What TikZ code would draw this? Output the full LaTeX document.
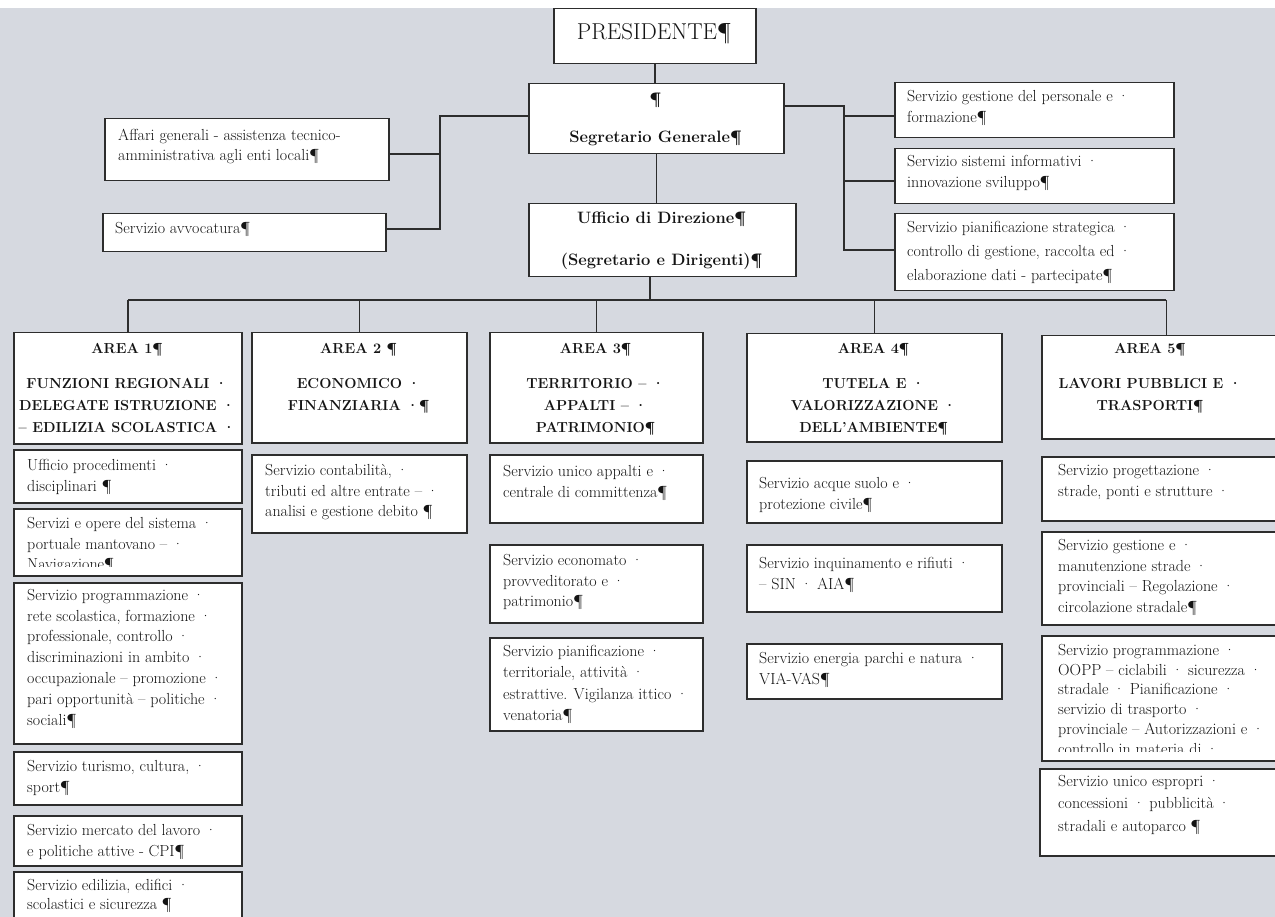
\documentclass[tikz,border=0pt]{standalone}
\definecolor{bg}{RGB}{214,217,224}
\definecolor{linec}{RGB}{45,45,45}
\definecolor{txtc}{RGB}{20,20,20}
\newcommand\mkbx[5]{\node[bx, minimum width={#4-#2}, minimum height={#5-#3}] (#1) at (#2,#3) {};}
\begin{document}
\begin{tikzpicture}[x=1pt,y=-1pt,
 bx/.style={draw=linec, line width=1.5pt, fill=white, inner sep=0pt, anchor=north west},
 tx/.style={inner sep=0pt, anchor=north west, align=left, text=txtc, font=\fontsize{16}{20.8}\selectfont},
 hd/.style={inner sep=0pt, anchor=north, align=center, text=txtc, font=\bfseries\fontsize{14.5}{22}\selectfont},
 ln/.style={draw=linec, line width=1.5pt}]
\useasboundingbox (0,0) rectangle (1275,917);
\clip (0,0) rectangle (1275,917);
\fill[bg] (0,8) rectangle (1275,917);

% top
\mkbx{pres}{553}{8}{755}{63}
\node[text=txtc, font=\fontsize{23}{26}\selectfont, inner sep=0pt] (prest) at (654,34) {PRESIDENTE¶};
\mkbx{segr}{528}{83}{783}{153}
\node[hd, font=\bfseries\fontsize{16.5}{38}\selectfont] (segrt) at (655.5,93) {¶\\Segretario Generale¶};
\mkbx{uff}{528}{203}{795}{276}
\node[hd, font=\bfseries\fontsize{16.5}{42}\selectfont] (ufft) at (661.5,212) {Ufficio di Direzione¶\\(Segretario e Dirigenti)¶};

% left
\mkbx{aff}{104}{118}{388}{180}
\node[tx, font=\fontsize{16}{20}\selectfont] (afft) at (118,129) {Affari generali - assistenza tecnico-\\amministrativa agli enti locali¶};
\mkbx{avv}{102}{213}{385}{251}
\node[tx] (avvt) at (115,222) {Servizio avvocatura¶};

% right
\mkbx{r1}{894}{82}{1173}{137}
\node[tx] (r1t) at (907,90) {Servizio gestione del personale e ·\\formazione¶};
\mkbx{r2}{894}{148}{1173}{203}
\node[tx] (r2t) at (907,155) {Servizio sistemi informativi ·\\innovazione sviluppo¶};
\mkbx{r3}{894}{213}{1173}{290}
\node[tx, font=\fontsize{16}{24}\selectfont] (r3t) at (907,221) {Servizio pianificazione strategica ·\\controllo di gestione, raccolta ed ·\\elaborazione dati - partecipate¶};

% areas
\mkbx{a1}{13}{332}{241}{443}
\node[hd] (a1t) at (127,343) {AREA 1¶\\[13pt]FUNZIONI REGIONALI ·\\DELEGATE ISTRUZIONE ·\\– EDILIZIA SCOLASTICA ·};
\mkbx{a2}{251}{332}{466}{442}
\node[hd] (a2t) at (358.5,343) {AREA 2 ¶\\[13pt]ECONOMICO ·\\FINANZIARIA ·¶};
\mkbx{a3}{489}{332}{702}{442}
\node[hd] (a3t) at (595.5,343) {AREA 3¶\\[13pt]TERRITORIO – ·\\APPALTI – ·\\PATRIMONIO¶};
\mkbx{a4}{746}{333}{1001}{441}
\node[hd] (a4t) at (873.5,343) {AREA 4¶\\[13pt]TUTELA E ·\\VALORIZZAZIONE ·\\DELL’AMBIENTE¶};
\mkbx{a5}{1041}{335}{1290}{438}
\node[hd] (a5t) at (1150,343) {AREA 5¶\\[13pt]LAVORI PUBBLICI E ·\\TRASPORTI¶};

% area 1 services
\mkbx{a1s1}{13}{449}{241}{502}
\node[tx] (a1s1t) at (27,459) {Ufficio procedimenti ·\\disciplinari ¶};
\mkbx{a1s2}{13}{508}{241}{575}
\begin{scope}
\clip (a1s2.north west) rectangle ([yshift=10pt]a1s2.south east);
\node[tx] (a1s2t) at (27,517) {Servizi e opere del sistema ·\\portuale mantovano – ·\\Navigazione¶};
\end{scope}
\mkbx{a1s3}{13}{582}{241}{743}
\node[tx] (a1s3t) at (27,589) {Servizio programmazione ·\\rete scolastica, formazione ·\\professionale, controllo ·\\discriminazioni in ambito ·\\occupazionale – promozione ·\\pari opportunità – politiche ·\\sociali¶};
\mkbx{a1s4}{13}{751}{241}{804}
\node[tx] (a1s4t) at (27,760) {Servizio turismo, cultura, ·\\sport¶};
\mkbx{a1s5}{13}{815}{241}{865}
\node[tx] (a1s5t) at (27,824) {Servizio mercato del lavoro ·\\e politiche attive - CPI¶};
\mkbx{a1s6}{13}{871}{241}{940}
\node[tx, font=\fontsize{16}{19.5}\selectfont] (a1s6t) at (27,879) {Servizio edilizia, edifici ·\\scolastici e sicurezza ¶};

% area 2 services
\mkbx{a2s1}{251}{454}{466}{532}
\node[tx] (a2s1t) at (265,464) {Servizio contabilità, ·\\tributi ed altre entrate – ·\\analisi e gestione debito ¶};

% area 3 services
\mkbx{a3s1}{489}{454}{702}{522}
\node[tx] (a3s1t) at (503,465) {Servizio unico appalti e ·\\centrale di committenza¶};
\mkbx{a3s2}{489}{544}{702}{622}
\node[tx] (a3s2t) at (503,554) {Servizio economato ·\\provveditorato e ·\\patrimonio¶};
\mkbx{a3s3}{489}{637}{702}{730}
\node[tx, font=\fontsize{16}{21.5}\selectfont] (a3s3t) at (503,645) {Servizio pianificazione ·\\territoriale, attività ·\\estrattive. Vigilanza ittico ·\\venatoria¶};

% area 4 services
\mkbx{a4s1}{746}{460}{1001}{522}
\node[tx] (a4s1t) at (759,477) {Servizio acque suolo e ·\\protezione civile¶};
\mkbx{a4s2}{746}{544}{1001}{611}
\node[tx] (a4s2t) at (759,557) {Servizio inquinamento e rifiuti ·\\– SIN · AIA¶};
\mkbx{a4s3}{746}{643}{1001}{698}
\node[tx] (a4s3t) at (759,652) {Servizio energia parchi e natura ·\\VIA-VAS¶};

% area 5 services
\mkbx{a5s1}{1041}{456}{1290}{520}
\node[tx] (a5s1t) at (1058,464) {Servizio progettazione ·\\strade, ponti e strutture ·};
\mkbx{a5s2}{1041}{531}{1290}{624}
\node[tx] (a5s2t) at (1058,539) {Servizio gestione e ·\\manutenzione strade ·\\provinciali – Regolazione ·\\circolazione stradale¶};
\mkbx{a5s3}{1041}{635}{1290}{760}
\begin{scope}
\clip (a5s3.north west) rectangle ([yshift=10pt]a5s3.south east);
\node[tx, font=\fontsize{16}{19.8}\selectfont] (a5s3t) at (1058,644) {Servizio programmazione ·\\OOPP – ciclabili · sicurezza ·\\stradale · Pianificazione ·\\servizio di trasporto ·\\provinciale – Autorizzazioni e ·\\controllo in materia di ·};
\end{scope}
\mkbx{a5s4}{1039}{768}{1290}{855}
\node[tx, font=\fontsize{16}{22.5}\selectfont] (a5s4t) at (1058,775) {Servizio unico espropri ·\\concessioni · pubblicità ·\\stradali e autoparco ¶};

% connectors
\coordinate (jl) at (440,116);
\coordinate (jla) at (440,154);
\coordinate (jlb) at (440,229);
\draw[ln] (segr.west |- jl) -- (jl) -- (jlb) -- (avv.east |- jlb);
\draw[ln] (aff.east |- jla) -- (jla);
\coordinate (jr) at (844,106);
\coordinate (jr1) at (844,116);
\coordinate (jr2) at (844,181);
\coordinate (jr3) at (844,250);
\draw[ln] (segr.east |- jr) -- (jr) -- (jr3) -- (r3.west |- jr3);
\draw[ln] (jr1) -- (r1.west |- jr1);
\draw[ln] (jr2) -- (r2.west |- jr2);
\draw[ln] (pres.south) -- (pres.south |- segr.north);
\draw[ln] (segr.south) -- (segr.south |- uff.north);
\coordinate (bus) at (650,300);
\draw[ln] (uff.south -| bus) -- (bus);
\draw[ln] (a1.north |- bus) -- (a5.north |- bus);
\foreach \a in {a1,a2,a3,a4,a5} \draw[ln] (\a.north |- bus) -- (\a.north);
\end{tikzpicture}
\end{document}
